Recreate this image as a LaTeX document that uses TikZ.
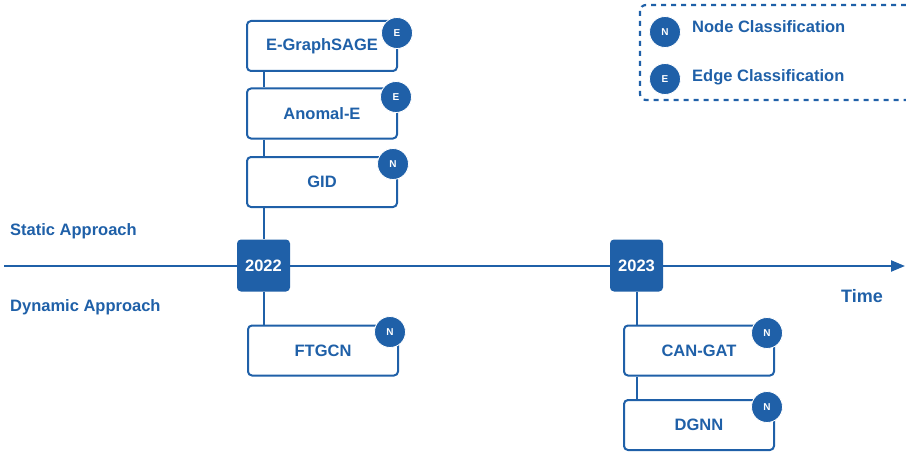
\documentclass[tikz,border=0pt]{standalone}
\usepackage{fontspec}
\setmainfont{Liberation Sans}
\usetikzlibrary{arrows.meta}
\definecolor{tblue}{HTML}{1F60A8}
\begin{document}
\begin{tikzpicture}[x=1pt,y=-1pt,
  font=\bfseries\fontsize{16.5}{18}\selectfont,
  method/.style={draw=tblue,line width=2pt,rounded corners=4pt,fill=white,text=tblue,
    minimum width=150pt,minimum height=50pt,inner sep=0pt},
  yearbox/.style={fill=tblue,rounded corners=4pt,text=white,minimum width=53pt,minimum height=52pt,inner sep=0pt},
  badge/.style={circle,fill=tblue,draw=white,line width=0.8pt,text=white,minimum size=31pt,inner sep=0pt,font=\bfseries\fontsize{10}{12}\selectfont},
  lbl/.style={text=tblue,anchor=base west,inner sep=0pt},
  conn/.style={draw=tblue,line width=2pt}]
\useasboundingbox (0,0) rectangle (906,452);
% legend
\draw[tblue,line width=2.2pt,dash pattern=on 5pt off 5pt,rounded corners=6pt] (640,5) rectangle (930,100);
\node[badge] (ln) at (665,32) {N};
\node[lbl,anchor=west] (lnt) at (692,27) {Node Classification};
\node[badge] (le) at (665,79) {E};
\node[lbl,anchor=west] (let) at (692,77) {Edge Classification};
% timeline
\coordinate (tl0) at (4,266);
\coordinate (tl1) at (905,266);
\draw[tblue,line width=2.2pt,-{Triangle[length=14pt,width=11pt]}] (tl0) -- (tl1);
% labels
\node[lbl] (st) at (10,235) {Static Approach};
\node[lbl] (dy) at (10,311) {Dynamic Approach};
\node[lbl,font=\bfseries\fontsize{18}{20}\selectfont] (tm) at (841,302) {Time};
% boxes
\node[method] (egs) at (322,46) {E-GraphSAGE};
\node[method] (ane) at (322,113.5) {Anomal-E};
\node[method] (gid) at (322,182) {GID};
\node[method] (ftg) at (323,350.5) {FTGCN};
\node[method] (cgt) at (699,350.5) {CAN-GAT};
\node[method] (dgn) at (699,425) {DGNN};
\node[yearbox] (y22) at (263.5,265.5) {2022};
\node[yearbox] (y23) at (636.5,265.5) {2023};
% connectors
\draw[conn] (egs.south -| y22) -- (ane.north -| y22);
\draw[conn] (ane.south -| y22) -- (gid.north -| y22);
\draw[conn] (gid.south -| y22) -- (y22.north);
\draw[conn] (y22.south) -- (ftg.north -| y22);
\draw[conn] (y23.south) -- (cgt.north -| y23);
\draw[conn] (cgt.south -| y23) -- (dgn.north -| y23);
% badges
\node[badge] (b1) at (397,33) {E};
\node[badge] (b2) at (396,97) {E};
\node[badge] (b3) at (393,164) {N};
\node[badge] (b4) at (390,332) {N};
\node[badge] (b5) at (767,333) {N};
\node[badge] (b6) at (767,407) {N};
\end{tikzpicture}
\end{document}
